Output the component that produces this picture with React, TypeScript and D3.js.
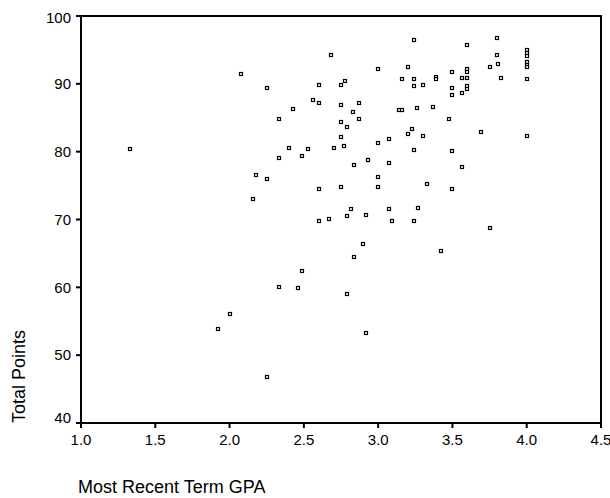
import React from "react";
import * as d3 from "d3";

// GPA / total points
const gpa = [
  1.33, 2.08, 2.25, 2.43, 2.33, 2.4, 2.53, 2.33, 2.49, 2.18, 2.25, 2.16,
  3.24, 3.6, 3.8, 2.68, 3.8, 4.0, 4.0, 4.0, 4.0, 4.0, 4.0, 4.0, 4.0,
  3.81, 3.75, 3.83, 3.0, 3.2, 3.495, 3.6, 3.6, 3.6, 3.565, 3.39, 3.39,
  3.16, 3.24, 3.24, 3.3, 3.495, 3.495, 3.565, 3.6, 3.6,
  2.6, 2.75, 2.78, 2.56, 2.6, 2.75, 2.87, 2.83, 2.87, 2.75, 2.79, 2.75, 2.7, 2.77,
  3.14, 3.16, 3.26, 3.37, 3.48, 3.23, 3.2, 3.3, 3.69, 3.0, 3.07, 3.24, 3.495,
  2.84, 2.93, 3.07, 3.565, 3.0, 3.0, 3.33, 2.6, 2.75, 3.495,
  2.82, 2.79, 2.92, 3.07, 3.27, 2.6, 2.67, 3.09, 3.24, 3.75,
  2.9, 3.425, 2.84, 2.49, 2.79, 2.92, 2.33, 2.46, 2.0, 1.92, 2.25,
];
const points = [
  80.33, 91.4, 89.38, 86.35, 84.8, 80.57, 80.33, 79.05, 79.3, 76.5, 76.0, 72.96,
  96.41, 95.72, 96.71, 94.2, 94.2, 94.98, 94.54, 94.14, 93.26, 92.84, 92.43, 90.66, 82.34,
  92.95, 92.43, 90.9, 92.18, 92.43, 91.69, 92.18, 91.69, 90.9, 90.9, 91.07, 90.7,
  90.66, 90.66, 89.63, 89.89, 89.38, 88.39, 88.64, 89.63, 89.3,
  89.89, 89.89, 90.38, 87.65, 87.16, 86.87, 87.16, 85.88, 84.85, 84.36, 83.62, 82.1, 80.57, 80.82,
  86.13, 86.13, 86.38, 86.62, 84.88, 83.33, 82.59, 82.34, 82.84, 81.31, 81.82, 80.3, 80.05,
  78.06, 78.8, 78.28, 77.8, 76.29, 74.77, 75.26, 74.52, 74.77, 74.52,
  71.48, 70.46, 70.71, 71.48, 71.72, 69.75, 70.01, 69.71, 69.71, 68.69,
  66.44, 65.4, 64.4, 62.38, 59.09, 53.28, 60.12, 59.87, 56.03, 53.8, 46.74,
];
const xTicks = [1.0, 1.5, 2.0, 2.5, 3.0, 3.5, 4.0, 4.5];
const yTicks = [40, 50, 60, 70, 80, 90, 100];

export default function App() {
  const width = 610;
  const height = 498;
  const left = 81, right = 601, top = 16, bottom = 423;

  const x = d3.scaleLinear().domain([1, 4.5]).range([left, right]);
  const y = d3.scaleLinear().domain([40, 100]).range([bottom, top]);

  const font = "'Liberation Sans', Arial, sans-serif";

  return (
    <svg
      width={width}
      height={height}
      style={{ position: "absolute", left: 0, top: 0, background: "#fff" }}
    >
      <rect
        x={left}
        y={top}
        width={right - left}
        height={bottom - top}
        fill="none"
        stroke="#000"
        strokeWidth={2}
      />

      {yTicks.map((t) => {
        const cy = Math.min(Math.max(y(t), top + 1.7), bottom - 5);
        return (
          <g key={"y" + t}>
            <line x1={left - 5} x2={left} y1={y(t)} y2={y(t)} stroke="#000" strokeWidth={2} />
            <text
              x={left - 10}
              y={cy}
              dy="0.35em"
              textAnchor="end"
              fontFamily={font}
              fontSize={15}
              fill="#000"
            >
              {t}
            </text>
          </g>
        );
      })}

      {xTicks.map((t) => (
        <g key={"x" + t}>
          <line x1={x(t)} x2={x(t)} y1={bottom} y2={bottom + 5} stroke="#000" strokeWidth={2} />
          <text
            x={x(t)}
            y={445}
            textAnchor="middle"
            fontFamily={font}
            fontSize={15}
            fill="#000"
          >
            {t.toFixed(1)}
          </text>
        </g>
      ))}

      {gpa.map((g, i) => (
        <rect
          key={i}
          x={Math.round(x(g)) - 1.5}
          y={Math.round(y(points[i])) - 1.5}
          width={3}
          height={3}
          fill="#fff"
          stroke="#000"
          strokeWidth={1.2}
        />
      ))}

      <text
        transform={`translate(25,${bottom}) rotate(-90)`}
        textAnchor="start"
        fontFamily={font}
        fontSize={18}
        fill="#000"
      >
        Total Points
      </text>
      <text x={78} y={493} fontFamily={font} fontSize={18} fill="#000">
        Most Recent Term GPA
      </text>
    </svg>
  );
}
